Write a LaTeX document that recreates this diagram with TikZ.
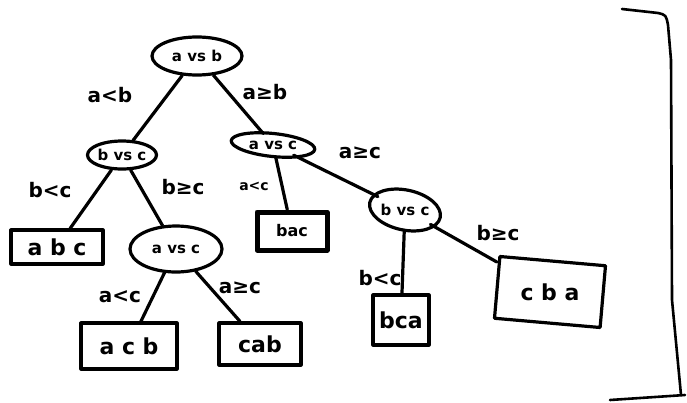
\documentclass[tikz,border=0pt]{standalone}
\usepackage{fontspec}
\setmainfont{DejaVu Sans}
\usetikzlibrary{shapes.geometric,calc}
\begin{document}
\begin{tikzpicture}[x=1pt,y=-1pt,
  ink/.style={line width=3.2pt, line cap=round, line join=round},
  cmp/.style={ink, draw, ellipse, inner sep=0pt, font=\fontsize{15}{15}\selectfont\bfseries},
  tcmp/.style={ellipse, inner sep=0pt, font=\fontsize{15}{15}\selectfont\bfseries},
  leaf/.style={ink, draw, rectangle, inner sep=0pt, font=\fontsize{22}{22}\selectfont\bfseries},
  lbl/.style={font=\fontsize{20}{20}\selectfont\bfseries, inner sep=0pt},
  slbl/.style={font=\fontsize{14}{14}\selectfont\bfseries, inner sep=0pt},
  edge/.style={ink}]
\useasboundingbox (0,0) rectangle (687,402);
% comparison nodes
\node[cmp, minimum width=90pt, minimum height=38pt] (root) at (197,56) {a vs b};
\node[cmp, minimum width=66pt, minimum height=28pt] (bvc1) at (122,155) {b vs c};
\node[tcmp, minimum width=84pt, minimum height=23pt] (avc1) at (273,145) {a vs c};
\draw[ink, rotate around={-6:(avc1.center)}] (avc1.center) ellipse (42pt and 11.5pt);
\node[cmp, minimum width=92pt, minimum height=46pt] (avc2) at (176,249) {a vs c};
\node[tcmp, minimum width=72pt, minimum height=40pt] (bvc2) at (405,210) {b vs c};
\draw[ink, rotate around={-12:(bvc2.center)}] (bvc2.center) ellipse (36pt and 20pt);
% leaves
\node[leaf, minimum width=92pt, minimum height=34pt] (abc) at (57,247) {a b c};
\node[leaf, minimum width=96pt, minimum height=46pt] (acb) at (129,346) {a c b};
\node[leaf, minimum width=82pt, minimum height=42pt] (cab) at (260,344) {cab};
\node[leaf, line width=5pt, minimum width=70pt, minimum height=38pt, font=\fontsize{16}{16}\selectfont\bfseries] (bac) at (292,231) {bac};
\node[leaf, minimum width=56pt, minimum height=50pt] (bca) at (401,320) {bca};
\node[font=\fontsize{22}{22}\selectfont\bfseries, inner sep=0pt, minimum width=106pt, minimum height=62pt] (cba) at (550,292) {c b a};
\draw[ink, rotate around={-5:(cba.center)}] ($(cba.center)+(-53,-31)$) rectangle ($(cba.center)+(53,31)$);
% edges
\draw[edge] (root) -- (bvc1);
\draw[edge] (root) -- (avc1);
\draw[edge] (bvc1) -- (abc);
\draw[edge] (bvc1) -- (avc2);
\draw[edge] (avc2) -- (acb);
\draw[edge] (avc2) -- (cab);
\draw[edge] (avc1) -- (bac);
\draw[edge] (avc1) -- (bvc2);
\draw[edge] (bvc2) -- (bca);
\draw[edge] (bvc2) -- (cba);
% edge labels
\node[lbl] (l1) at (110,95) {a<b};
\node[lbl] (l2) at (265,92) {a≥b};
\node[lbl] (l3) at (50,190) {b<c};
\node[lbl] (l4) at (183,187) {b≥c};
\node[slbl] (l5) at (254,186) {a<c};
\node[lbl] (l6) at (360,153) {a≥c};
\node[lbl] (l7) at (120,297) {a<c};
\node[lbl] (l8) at (240,288) {a≥c};
\node[lbl] (l9) at (380,278) {b<c};
\node[lbl] (l10) at (498,233) {b≥c};
% bracket
\draw[ink, line width=2.6pt] (622,9) -- (658,13) .. controls (666,15) .. (668,25)
  -- (671,60) -- (672,300) -- (681,395);
\draw[ink, line width=2.6pt] (610,400) -- (685,395);
\end{tikzpicture}
\end{document}
